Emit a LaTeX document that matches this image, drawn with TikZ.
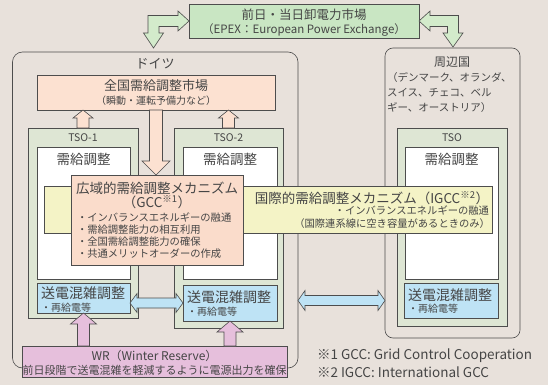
\documentclass[tikz,border=0pt]{standalone}
\usepackage{fontspec}
\setmainfont{Noto Sans CJK JP}
\usetikzlibrary{calc}
\definecolor{bg}{HTML}{E8E1DB}
\definecolor{gfill}{HTML}{C9E6C3}
\definecolor{garr}{HTML}{D3EBCB}
\definecolor{peach}{HTML}{FCE1D1}
\definecolor{gccfill}{HTML}{FADCCB}
\definecolor{tsofill}{HTML}{DEE6D4}
\definecolor{yel}{HTML}{F4F3C6}
\definecolor{blu}{HTML}{BEE3F5}
\definecolor{pinkf}{HTML}{E6BFDC}
\definecolor{ln}{HTML}{4D4D4D}
\definecolor{txt}{HTML}{454545}
\newcommand\fz[1]{\fontsize{#1}{#1}\selectfont}
% block arrow: style, tail, tip, shaft half, head half, head length
\newcommand\blockarrow[6]{%
  \coordinate (bab) at ($(#3)!#6!(#2)$);
  \draw[#1] ($(#2)!#4!90:(#3)$) -- ($(bab)!#4!90:(#3)$) -- ($(bab)!#5!90:(#3)$) -- (#3)
    -- ($(bab)!#5!-90:(#3)$) -- ($(bab)!#4!-90:(#3)$) -- ($(#2)!#4!-90:(#3)$) -- cycle;}
% double block arrow
\newcommand\dblarrow[6]{%
  \coordinate (daa) at ($(#2)!#6!(#3)$);
  \coordinate (dbb) at ($(#3)!#6!(#2)$);
  \draw[#1] (#2) -- ($(daa)!#5!90:(#3)$) -- ($(daa)!#4!90:(#3)$) -- ($(dbb)!#4!-90:(#2)$)
    -- ($(dbb)!#5!-90:(#2)$) -- (#3) -- ($(dbb)!#5!90:(#2)$) -- ($(dbb)!#4!90:(#2)$)
    -- ($(daa)!#4!-90:(#3)$) -- ($(daa)!#5!-90:(#3)$) -- cycle;}
\begin{document}
\begin{tikzpicture}[x=1pt,y=-1pt,
  every node/.style={inner sep=0pt,outer sep=0pt,text=txt},
  box/.style={draw=ln,line width=0.6pt},
  arr/.style={draw=ln,line width=0.6pt,line join=miter},
]
\fill[bg] (0,0) rectangle (548,385);
\useasboundingbox (0,0) rectangle (548,385);

% frames
\node[box,rounded corners=10pt,minimum width=285.5pt,minimum height=316pt] (germany) at (155.25,210) {};
\node[box,rounded corners=8pt,minimum width=135pt,minimum height=290pt] (nb) at (452.5,193) {};

% top market
\node[box,fill=gfill,minimum width=230pt,minimum height=34pt] (green) at (304,21) {};
\node[font=\fz{12.5}] at (304,14.5) {前日・当日卸電力市場};
\node[font=\fz{11.5}] at (304,30) {（EPEX：European Power Exchange）};

% elbow arrows
\draw[arr,fill=garr] (green.west) -- ++(-11,-10) -- ++(0,4.5) -- ++(-30,0) -- ++(0,17.5)
  -- ++(-4.5,0) -- ++(10,15) -- ++(10,-15) -- ++(-4.5,0) -- ++(0,-6.5) -- ++(19,0)
  -- ++(0,4.5) -- cycle;
\draw[arr,fill=garr] (green.east) -- ++(11,-10) -- ++(0,4.5) -- ++(28.5,0) -- ++(0,17.5)
  -- ++(4.5,0) -- ++(-10,14) -- ++(-10,-14) -- ++(4.5,0) -- ++(0,-6.5) -- ++(-17.5,0)
  -- ++(0,4.5) -- cycle;

% Germany
\node[font=\fz{13}] at (155,64) {ドイツ};
\node[box,fill=peach,minimum width=238pt,minimum height=35pt] (market) at (156,92.5) {};
\node[font=\fz{13}] at (156,86) {全国需給調整市場};
\node[font=\fz{10}] at (156,101) {（瞬動・運転予備力など）};

% neighbours
\node[font=\fz{12}] at (452,62) {周辺国};
\node[font=\fz{10.5},anchor=west] at (387,78) {（デンマーク、オランダ、};
\node[font=\fz{10.5},anchor=west] at (387,93) {スイス、チェコ、ベル};
\node[font=\fz{10.5},anchor=west] at (387,108) {ギー、オーストリア）};

% TSO boxes
\node[box,fill=tsofill,minimum width=110pt,minimum height=190pt] (tso1) at (83,223) {};
\node[box,fill=white,minimum width=93pt,minimum height=132pt] (w1) at (83.5,213) {};
\node[box,fill=blu,minimum width=93pt,minimum height=30pt] (b1) at (83.5,298) {};
\node[box,fill=tsofill,minimum width=109pt,minimum height=200pt] (tso2) at (228.5,228) {};
\node[box,fill=white,minimum width=94pt,minimum height=132pt] (w2) at (230,213) {};
\node[box,fill=blu,minimum width=94pt,minimum height=36pt] (b2) at (230,303) {};
\node[box,fill=tsofill,minimum width=110pt,minimum height=198pt] (tso3) at (452,227) {};
\node[box,fill=white,minimum width=93pt,minimum height=132pt] (w3) at (451.5,213) {};
\node[box,fill=blu,minimum width=94pt,minimum height=35pt] (b3) at (451,300.5) {};

\node[font=\fz{10.5}] at (83,138) {TSO-1};
\node[font=\fz{10.5}] at (228.5,138) {TSO-2};
\node[font=\fz{10.5}] at (452,138) {TSO};
\node[font=\fz{13.5}] at (83.5,159) {需給調整};
\node[font=\fz{13.5}] at (230,159) {需給調整};
\node[font=\fz{13.5}] at (451.5,159) {需給調整};

\node[font=\fz{14},anchor=west] at (41,293) {送電混雑調整};
\node[font=\fz{10},anchor=west] at (41,308) {・再給電等};
\node[font=\fz{14},anchor=west] at (187,297) {送電混雑調整};
\node[font=\fz{10},anchor=west] at (187,312) {・再給電等};
\node[font=\fz{14},anchor=west] at (408,295) {送電混雑調整};
\node[font=\fz{10},anchor=west] at (408,309) {・再給電等};

% IGCC
\node[box,fill=yel,minimum width=448pt,minimum height=47pt] (igcc) at (268,209.5) {};
\node[font=\fz{13.5},anchor=east] at (489,198) {国際的需給調整メカニズム（IGCC\textsuperscript{※2}）};
\node[font=\fz{10.3},anchor=east] at (489,211) {・インバランスエネルギーの融通};
\node[font=\fz{10.3},anchor=east] at (490,224) {（国際連系線に空き容量があるときのみ）};

% GCC
\node[box,fill=gccfill,minimum width=172pt,minimum height=90pt] (gcc) at (157,220) {};
\node[font=\fz{13.5}] at (157,188) {広域的需給調整メカニズム};
\node[font=\fz{13.5}] at (157,202) {（GCC\textsuperscript{※1}）};
\node[font=\fz{10.3},anchor=west] at (77,218) {・インバランスエネルギーの融通};
\node[font=\fz{10.3},anchor=west] at (77,230) {・需給調整能力の相互利用};
\node[font=\fz{10.3},anchor=west] at (77,242) {・全国需給調整能力の確保};
\node[font=\fz{10.3},anchor=west] at (77,254) {・共通メリットオーダーの作成};

% WR
\node[box,fill=pinkf,minimum width=265pt,minimum height=31pt] (wr) at (154.5,361.5) {};
\node[font=\fz{12}] at (154.5,356) {WR（Winter Reserve）};
\node[font=\fz{11}] at (154.5,370) {前日段階で送電混雑を軽減するように電源出力を確保};

% arrows
\blockarrow{arr,fill=peach}{tso1.north}{tso1.north |- market.south}{6pt}{10pt}{8pt}
\blockarrow{arr,fill=peach}{tso2.north}{tso2.north |- market.south}{6pt}{10pt}{8pt}
\blockarrow{arr,fill=peach}{market.south}{market.south |- gcc.north}{6.5pt}{14pt}{14pt}
\blockarrow{arr,fill=pinkf}{b1.south |- wr.north}{b1.south}{6pt}{13pt}{11pt}
\blockarrow{arr,fill=pinkf}{b2.south |- wr.north}{b2.south}{6pt}{13pt}{11pt}
\dblarrow{arr,fill=blu}{b1.east |- b2.west}{b2.west}{5pt}{9.5pt}{7pt}
\dblarrow{arr,fill=blu}{germany.east |- b3.west}{nb.west |- b3.west}{5pt}{10pt}{7pt}

% footnotes
\node[font=\fz{13.5},anchor=west] at (317,356) {※1 GCC: Grid Control Cooperation};
\node[font=\fz{13.5},anchor=west] at (317,372) {※2 IGCC: International GCC};
\end{tikzpicture}
\end{document}
